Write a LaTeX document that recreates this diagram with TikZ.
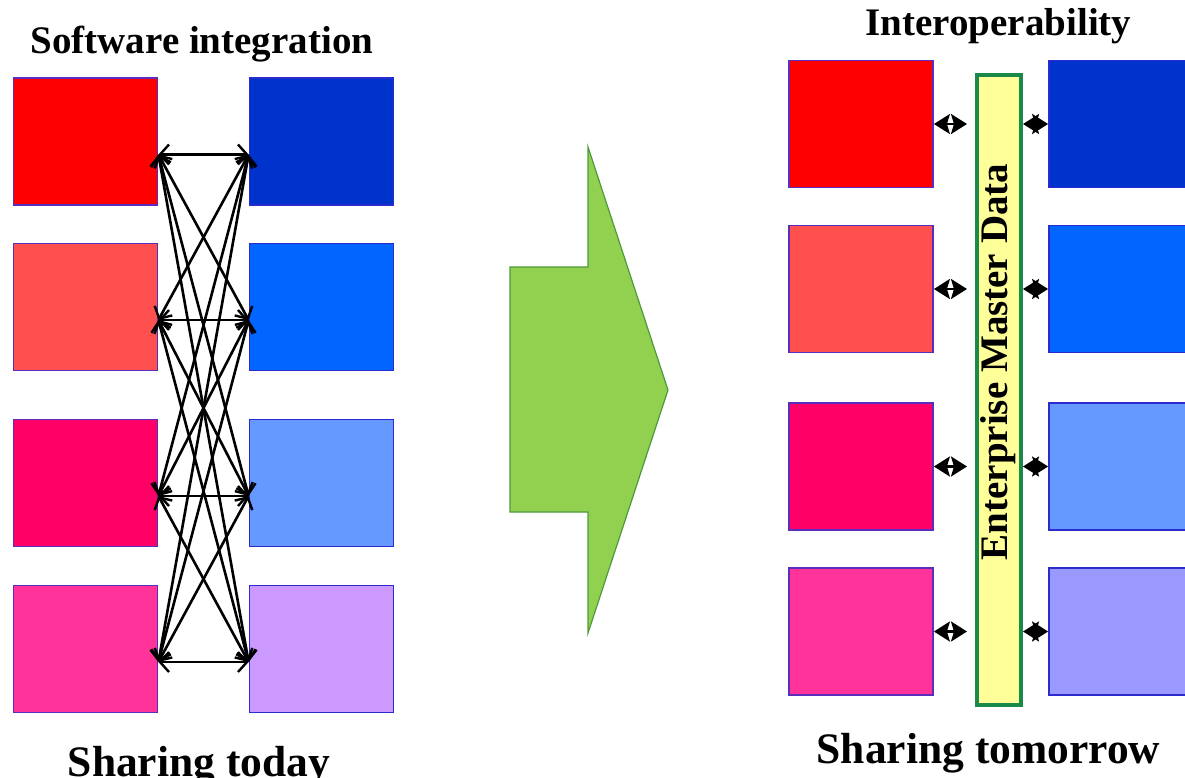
\documentclass[tikz,border=0pt]{standalone}
\usepackage{fontspec}
\setmainfont{Liberation Serif}
\usetikzlibrary{arrows.meta}
\definecolor{cRa}{HTML}{FF0000}
\definecolor{cRb}{HTML}{FF5050}
\definecolor{cRc}{HTML}{FF0066}
\definecolor{cRd}{HTML}{FF3399}
\definecolor{cBa}{HTML}{0033CC}
\definecolor{cBb}{HTML}{0066FF}
\definecolor{cBc}{HTML}{6699FF}
\definecolor{cBd}{HTML}{CC99FF}
\definecolor{cBe}{HTML}{9999FF}
\definecolor{redborder}{HTML}{5A2DBE}
\definecolor{blueborder}{HTML}{2B2BD0}
\definecolor{arrowfill}{HTML}{92D050}
\definecolor{arrowline}{HTML}{4E9A3A}
\definecolor{barfill}{HTML}{FFFF99}
\definecolor{barline}{HTML}{1A8A4A}
\tikzset{
  redbox/.style={rectangle, draw=redborder, line width=1.8pt, minimum width=144pt, minimum height=127pt, inner sep=0pt},
  bluebox/.style={rectangle, draw=blueborder, line width=1.8pt, minimum width=144pt, minimum height=127pt, inner sep=0pt},
  title/.style={font=\bfseries\fontsize{39}{40}\selectfont, anchor=base, inner sep=0pt},
  bigtitle/.style={font=\bfseries\fontsize{43.5}{45}\selectfont, anchor=base, inner sep=0pt},
  meshtip/.tip={Straight Barb[length=9pt,width=20pt,line width=2.4pt]},
  linktip/.tip={Stealth[length=16pt,width=20pt,inset=3pt]},
  meshline/.style={line width=2.6pt, meshtip-meshtip},
  linkline/.style={line width=2.4pt, linktip-linktip},
}
\begin{document}
\begin{tikzpicture}[x=1pt,y=-1pt]
\useasboundingbox (0,0) rectangle (1185,777);
\fill[white] (0,0) rectangle (1185,777);

% ---------- left: Software integration ----------
\node[title] (t1) at (202,53) {Software integration};
\node[redbox, fill=cRa] (L1) at (85.5,141.5) {};
\node[redbox, fill=cRb] (L2) at (85.5,307) {};
\node[redbox, fill=cRc] (L3) at (85.5,483) {};
\node[redbox, fill=cRd] (L4) at (85.5,649) {};
\node[bluebox, fill=cBa] (R1) at (321.5,141.5) {};
\node[bluebox, fill=cBb] (R2) at (321.5,307) {};
\node[bluebox, fill=cBc] (R3) at (321.5,483) {};
\node[bluebox, fill=cBd] (R4) at (321.5,649) {};
\foreach \i in {1,2,3,4}{
  \coordinate (pL\i) at ([yshift=-13pt]L\i.east);
  \coordinate (pR\i) at ([yshift=-13pt]R\i.west);
}
\foreach \i in {1,2,3,4}{
  \foreach \j in {1,2,3,4}{
    \draw[meshline] (pL\i) -- (pR\j);
  }
}
\node[bigtitle] (t2) at (199,776) {Sharing today};

% ---------- middle arrow ----------
\draw[fill=arrowfill, draw=arrowline, line width=1.2pt, line join=miter]
  (510,267) -- (588,267) -- (588,147) -- (668,390) -- (588,633) -- (588,512) -- (510,512) -- cycle;

% ---------- right: Interoperability ----------
\node[title] (t3) at (998.5,35) {Interoperability};
\node[rectangle, draw=barline, fill=barfill, line width=4pt, minimum width=44pt, minimum height=630pt, inner sep=0pt] (bar) at (999,390) {};
\node[font=\bfseries\fontsize{39}{40}\selectfont, rotate=90, inner sep=0pt] (bartext) at (998,362) {Enterprise Master Data};
\node[redbox, fill=cRa] (A1) at (861,124) {};
\node[redbox, fill=cRb] (A2) at (861,289) {};
\node[redbox, fill=cRc] (A3) at (861,466.5) {};
\node[redbox, fill=cRd] (A4) at (861,631.5) {};
\node[bluebox, fill=cBa] (B1) at (1121,124) {};
\node[bluebox, fill=cBb] (B2) at (1121,289) {};
\node[bluebox, fill=cBc] (B3) at (1121,466.5) {};
\node[bluebox, fill=cBe] (B4) at (1121,631.5) {};
\coordinate (barL) at ([xshift=-8pt]bar.west);
\foreach \i in {1,2,3,4}{
  \draw[linkline] (A\i.east) -- (barL |- A\i.east);
  \draw[linkline] (bar.east |- B\i.west) -- (B\i.west);
}
\node[bigtitle] (t4) at (988.5,763) {Sharing tomorrow};
\end{tikzpicture}
\end{document}
